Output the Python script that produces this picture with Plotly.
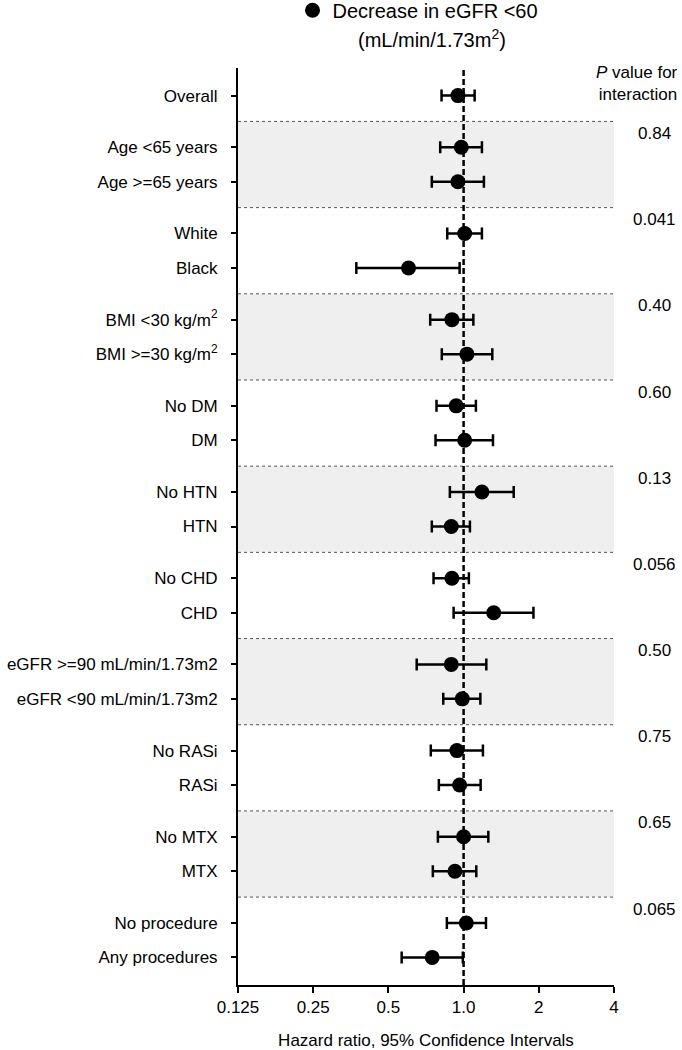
import numpy as np
import plotly.graph_objects as go

# subgroups, top to bottom
labels = ["Overall",
          "Age <65 years", "Age >=65 years",
          "White", "Black",
          "BMI <30 kg/m<sup>2</sup>", "BMI >=30 kg/m<sup>2</sup>",
          "No DM", "DM",
          "No HTN", "HTN",
          "No CHD", "CHD",
          "eGFR >=90 mL/min/1.73m2", "eGFR <90 mL/min/1.73m2",
          "No RASi", "RASi",
          "No MTX", "MTX",
          "No procedure", "Any procedures"]
group_of = [0, 1, 1, 2, 2, 3, 3, 4, 4, 5, 5, 6, 6, 7, 7, 8, 8, 9, 9, 10, 10]

hr = [0.949, 0.979, 0.949, 1.01, 0.602, 0.898, 1.031, 0.934, 1.01, 1.184, 0.893,
      0.898, 1.32, 0.893, 0.988, 0.94, 0.964, 1.0, 0.923, 1.025, 0.749]
lo = [0.816, 0.806, 0.746, 0.86, 0.372, 0.735, 0.818, 0.779, 0.772, 0.881, 0.746,
      0.758, 0.912, 0.649, 0.829, 0.739, 0.796, 0.789, 0.753, 0.857, 0.565]
hi = [1.107, 1.184, 1.206, 1.184, 0.964, 1.094, 1.303, 1.12, 1.311, 1.587, 1.06,
      1.05, 1.904, 1.233, 1.167, 1.195, 1.17, 1.256, 1.124, 1.229, 0.993]

# p value for interaction, one per subgroup pair (groups 1..10)
p_vals = ["0.84", "0.041", "0.40", "0.60", "0.13", "0.056", "0.50", "0.75", "0.65", "0.065"]

x_ticks = [0.125, 0.25, 0.5, 1, 2, 4]
x_ticktext = ["0.125", "0.25", "0.5", "1.0", "2", "4"]

# row positions: one unit per row, 1.5 between groups
ypos = []
y = 0.0
for i, g in enumerate(group_of):
    if i > 0:
        y += 1.0 if g == group_of[i - 1] else 1.5
    ypos.append(y)

FONT = "Liberation Sans, Arial, sans-serif"

fig = go.Figure()

# shaded bands + dotted separators
first_pos = {}
last_pos = {}
for p, g in zip(ypos, group_of):
    first_pos.setdefault(g, p)
    last_pos[g] = p
shapes = []
for g in range(1, 11):
    top = first_pos[g] - 0.75
    bot = last_pos[g] + 0.75
    if g % 2 == 1:
        shapes.append(dict(type="rect", xref="paper", yref="y", x0=0, x1=1, y0=top, y1=bot,
                           fillcolor="#efefef", line_width=0, layer="below"))
    shapes.append(dict(type="line", xref="paper", yref="y", x0=0, x1=1, y0=top, y1=top,
                       line=dict(color="#555555", width=1, dash="dot"), layer="below"))
shapes.append(dict(type="line", xref="x", yref="paper", x0=1, x1=1, y0=0, y1=1,
                   line=dict(color="black", width=2.5, dash="6px,3px")))

fig.add_trace(go.Scatter(
    x=hr, y=ypos, mode="markers",
    name="Decrease in eGFR <60",
    marker=dict(color="black", size=15, symbol="circle"),
    error_x=dict(type="data", symmetric=False,
                 array=list(np.array(hi) - np.array(hr)),
                 arrayminus=list(np.array(hr) - np.array(lo)),
                 color="black", thickness=2.5, width=6),
    showlegend=True,
))

annotations = [
    dict(text="(mL/min/1.73m<sup>2</sup>)", xref="paper", yref="paper", x=0.516, y=1.0327,
         showarrow=False, font=dict(size=20, family=FONT, color="black"), xanchor="center", yanchor="middle"),
    dict(text="<i>P</i> value for<br>interaction", xref="paper", yref="paper", x=1.1755, y=0.983,
         showarrow=False, font=dict(size=17, family=FONT, color="black"), xanchor="right", yanchor="middle",
         align="right"),
]
for g in range(1, 11):
    annotations.append(dict(text=p_vals[g - 1], xref="paper", yref="y", x=1.1064,
                            y=first_pos[g] - 0.4, showarrow=False, xanchor="center", yanchor="middle",
                            font=dict(size=17, family=FONT, color="black")))

fig.update_layout(
    width=682, height=1050,
    margin=dict(l=238, r=68, t=68, b=65, autoexpand=False),
    paper_bgcolor="white", plot_bgcolor="rgba(0,0,0,0)",
    font=dict(family=FONT, size=17, color="black"),
    shapes=shapes,
    annotations=annotations,
    legend=dict(x=0.145, y=1.063, xanchor="left", yanchor="middle",
                font=dict(size=20, family=FONT, color="black"), bgcolor="rgba(0,0,0,0)"),
    xaxis=dict(type="log", range=[np.log10(0.125), np.log10(4)],
               tickvals=x_ticks, ticktext=x_ticktext,
               showgrid=False, zeroline=False, showline=True, linecolor="black", linewidth=2,
               ticks="outside", ticklen=6, tickwidth=2, tickcolor="black",
               tickfont=dict(size=17),
               title=dict(text="Hazard ratio, 95% Confidence Intervals", font=dict(size=17), standoff=22)),
    yaxis=dict(range=[25.8, -0.8], tickvals=ypos, ticktext=labels,
               showgrid=False, zeroline=False, showline=True, linecolor="black", linewidth=2,
               ticks="outside", ticklen=5, tickwidth=2, tickcolor="black",
               tickfont=dict(size=17), ticklabelstandoff=10),
)

# drop the page's default body margin so the figure sits at the window origin
fig.write_html("out.html", config={"displayModeBar": False},
               post_script="document.body.style.margin='0';")
